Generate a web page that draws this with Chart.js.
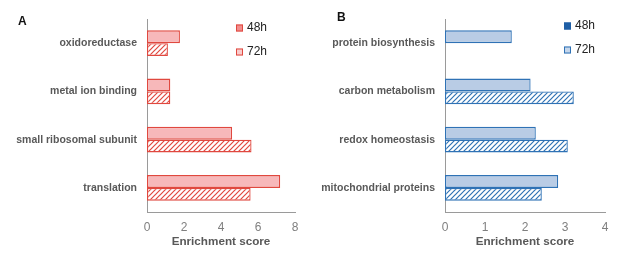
<!DOCTYPE html>
<html>
<head>
<meta charset="utf-8">
<script src="https://cdn.jsdelivr.net/npm/chart.js@4/dist/chart.umd.min.js"></script>
<style>
  body { margin: 0; background: #fff; width: 617px; height: 268px; position: relative; overflow: hidden; }
  .panel { position: absolute; top: 0; }
  .tag { position: absolute; font: bold 12px "Liberation Sans", Arial, sans-serif; color: #111; }
</style>
</head>
<body>
<div class="panel" style="left:0"><canvas id="chartA" width="310" height="268"></canvas></div>
<div class="panel" style="left:310px"><canvas id="chartB" width="307" height="268"></canvas></div>
<div class="tag" style="left:18px; top:14px">A</div>
<div class="tag" style="left:337px; top:10px">B</div>
<script>
var seriesNames = ['48h', '72h'];

var labelsA = ['oxidoreductase', 'metal ion binding', 'small ribosomal subunit', 'translation'];
var a48 = [1.78, 1.26, 4.6, 7.2];
var a72 = [1.13, 1.26, 5.65, 5.6];
var ticksA = [0, 2, 4, 6, 8];

var labelsB = ['protein biosynthesis', 'carbon metabolism', 'redox homeostasis', 'mitochondrial proteins'];
var b48 = [1.67, 2.14, 2.27, 2.83];
var b72 = [null, 3.22, 3.07, 2.42];
var ticksB = [0, 1, 2, 3, 4];

var FONT = '"Liberation Sans", Arial, sans-serif';

function hatch(color) {
    var c = document.createElement('canvas');
    c.width = 5; c.height = 5;
    var x = c.getContext('2d');
    x.fillStyle = '#fff';
    x.fillRect(0, 0, 5, 5);
    x.strokeStyle = color;
    x.lineWidth = 1.2;
    x.beginPath();
    x.moveTo(0, 5); x.lineTo(5, 0);
    x.moveTo(-1, 1); x.lineTo(1, -1);
    x.moveTo(4, 6); x.lineTo(6, 4);
    x.stroke();
    return x.createPattern(c, 'repeat');
}

// little legend drawn inside the plot, top right
var boxLegend = {
    id: 'boxLegend',
    afterDraw: function(chart, args, opts) {
        var ctx = chart.ctx;
        ctx.save();
        ctx.font = '12px ' + FONT;
        ctx.textBaseline = 'middle';
        for (var i = 0; i < opts.items.length; i++) {
            var it = opts.items[i];
            var y = opts.y + i * 24;
            ctx.fillStyle = it.fill;
            ctx.fillRect(opts.x, y - 3.5, 7, 7);
            ctx.strokeStyle = it.stroke;
            ctx.lineWidth = 1;
            ctx.strokeRect(opts.x + 0.5, y - 3, 6, 6);
            ctx.fillStyle = '#222';
            ctx.fillText(it.text, opts.x + 11, y);
        }
        ctx.restore();
    }
};

function makeChart(id, labels, d48, d72, ticks, yWidth, padRight, c, legend) {
    return new Chart(document.getElementById(id), {
        type: 'bar',
        data: {
            labels: labels,
            datasets: [{
                label: seriesNames[0],
                data: d48,
                backgroundColor: c.fill,
                borderColor: c.line,
                borderWidth: 1.3,
                borderSkipped: false
            }, {
                label: seriesNames[1],
                data: d72,
                backgroundColor: hatch(c.line),
                borderColor: c.line,
                borderWidth: 1.3,
                borderSkipped: false
            }]
        },
        options: {
            indexAxis: 'y',
            responsive: false,
            animation: false,
            layout: { padding: { top: 19, right: padRight, bottom: 0, left: 0 } },
            datasets: { bar: { categoryPercentage: 0.53, barPercentage: 1.0 } },
            plugins: {
                legend: { display: false },
                tooltip: { enabled: false },
                boxLegend: legend
            },
            scales: {
                x: {
                    min: ticks[0],
                    max: ticks[ticks.length - 1],
                    afterBuildTicks: function(s) { s.ticks = ticks.map(function(v) { return { value: v }; }); },
                    afterFit: function(s) { s.height = 56; },
                    grid: { display: false, drawTicks: false },
                    border: { display: true, color: '#9a9a9a', width: 1 },
                    ticks: { padding: 8, color: '#7f7f7f', font: { family: FONT, size: 12 } },
                    title: {
                        display: true,
                        text: 'Enrichment score',
                        color: '#595959',
                        font: { family: FONT, size: 11.7, weight: 'bold' },
                        padding: { top: 0, bottom: 19 }
                    }
                },
                y: {
                    afterFit: function(s) { s.width = yWidth; },
                    grid: { display: false, drawTicks: false },
                    border: { display: true, color: '#9a9a9a', width: 1 },
                    ticks: { padding: 10, color: '#595959', font: { family: FONT, size: 10.5, weight: 'bold' } }
                }
            }
        },
        plugins: [boxLegend]
    });
}

makeChart('chartA', labelsA, a48, a72, ticksA, 147, 15,
    { fill: '#f7b8ba', line: '#e0483f' },
    { x: 236, y: 28, items: [
        { text: seriesNames[0], fill: '#f28d8d', stroke: '#e0483f' },
        { text: seriesNames[1], fill: '#f9cccc', stroke: '#e0483f' }
    ] });

makeChart('chartB', labelsB, b48, b72, ticksB, 135, 12,
    { fill: '#b9cce5', line: '#2f72b5' },
    { x: 254, y: 26, items: [
        { text: seriesNames[0], fill: '#1f5fa6', stroke: '#1f5fa6' },
        { text: seriesNames[1], fill: '#c5d6eb', stroke: '#2f72b5' }
    ] });
</script>
</body>
</html>
